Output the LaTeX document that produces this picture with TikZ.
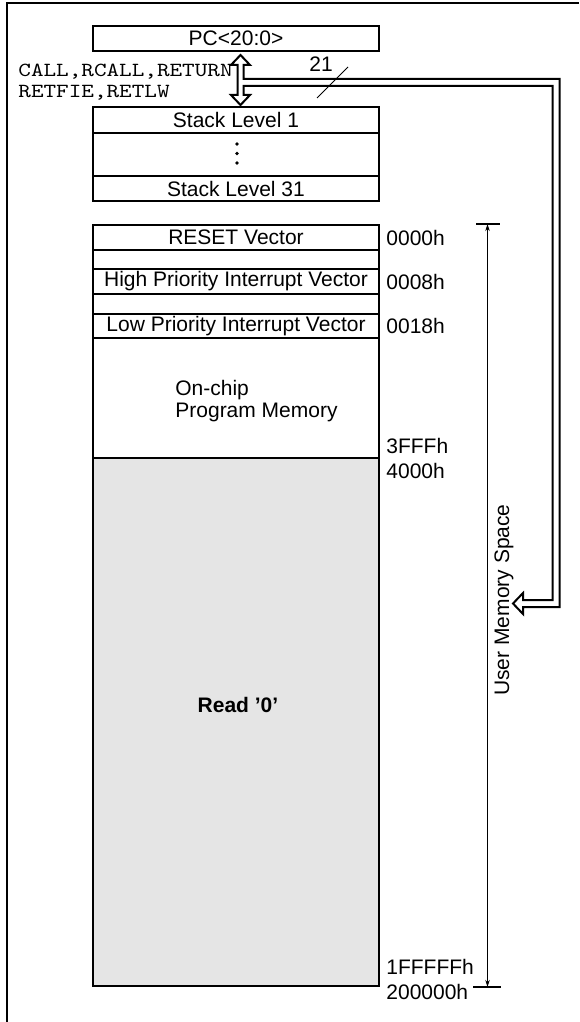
\documentclass[tikz,border=0pt]{standalone}
\usepackage{fontspec}
\setmainfont{Liberation Sans}
\usetikzlibrary{positioning,calc,arrows.meta}
\tikzset{
  cell/.style={draw, line width=1pt, minimum width=143pt, inner sep=0pt, outer sep=0pt},
  addr/.style={inner sep=0pt, anchor=west},
  bus/.style={draw, fill=white, line width=1pt},
  dimtip/.tip={Stealth[length=3.5pt,width=2.2pt]}
}
\begin{document}
\begin{tikzpicture}[x=0.5pt, y=-0.5pt, font=\fontsize{10.5}{11}\selectfont]
\useasboundingbox (0,0) rectangle (579,1022);
\draw[line width=1.2pt] (7,1022) -- (7,3) -- (579,3);

% PC and stack
\node[cell, minimum height=12.5pt] (pc) at (236,38.5) {PC<20:0>};
\node[cell, minimum height=13pt] (stk1) at (236,120) {Stack Level 1};
\node[cell, minimum height=21.5pt, below=0pt of stk1] (stkdots) {};
\foreach \d in {-9.5,0,9.5}
  \fill ($(stkdots.center)+(1,\d-1)$) circle (0.95pt);
\node[cell, minimum height=12.5pt, below=0pt of stkdots] (stk31) {Stack Level 31};

\node[inner sep=0pt, anchor=west, font=\ttfamily\fontsize{10}{10.5}\selectfont] (instr) at (18,83)
  {\scalebox{1.2}[1]{\begin{tabular}{@{}l@{}}CALL,RCALL,RETURN\\RETFIE,RETLW\end{tabular}}};

% memory map
\node[cell, minimum height=12.5pt] (reset) at (236,237.5) {RESET Vector};
\node[cell, minimum height=9.5pt, below=0pt of reset] (gapa) {};
\node[cell, minimum height=12.5pt, below=0pt of gapa] (hipri) {High Priority Interrupt Vector};
\node[cell, minimum height=10pt, below=0pt of hipri] (gapb) {};
\node[cell, minimum height=12pt, below=0pt of gapb] (lopri) {Low Priority Interrupt Vector};
\node[cell, minimum height=60pt, below=0pt of lopri] (onchip) {};
\node[cell, minimum height=264pt, below=0pt of onchip, fill=black!10] (rdzero) {};

\node[align=left, inner sep=0pt, anchor=west] (ocpm) at ($(onchip.west)+(82,3)$) {On-chip\\Program Memory};
\node[font=\bfseries\fontsize{10.5}{11}\selectfont] (rdtxt) at ($(rdzero.center)+(2,-17.5)$) {Read '0'};

\node[addr, right=3.5pt of reset] (a0000) {0000h};
\node[addr, right=3.5pt of hipri] (a0008) {0008h};
\node[addr, right=3.5pt of lopri] (a0018) {0018h};
\node[addr] (a3fff) at ($(onchip.south east)+(7,-12)$) {3FFFh};
\node[addr] (a4000) at ($(rdzero.north east)+(7,13)$) {4000h};
\node[addr] (a1fff) at ($(rdzero.south east)+(7,-19)$) {1FFFFFh};
\node[addr] (a2000) at ($(rdzero.south east)+(7,6)$) {200000h};

% user memory space
\coordinate (umtop) at (487.5,224);
\coordinate (umbot) at (487.5,987);
\draw[line width=0.6pt, dimtip-dimtip] (umtop) -- (umbot);
\draw[line width=0.7pt] ($(umtop)+(-11.5,0)$) -- ++(24,0);
\draw[line width=0.7pt] ($(umbot)+(-14.5,0)$) -- ++(28,0);
\node[rotate=90] (ums) at (504,600) {User Memory Space};

% return address bus
\coordinate (bt) at ($(pc.south)+(4.5,4)$);
\coordinate (bb) at ($(stk1.north)+(4.5,-2)$);
\coordinate (ret) at (513,603.5);
\path[bus] (bt) -- ++(9.5,10) -- ++(-6.5,0) -- ++(0,14) -- ++(316,0) -- ++(0,528)
  -- ($(ret)+(10,3.5)$) -- ++(0,7) -- (ret) -- ($(ret)+(10,-10.5)$) -- ++(0,7)
  -- ++(29.5,0) -- ++(0,-514) -- ++(-309,0) -- ++(0,9) -- ++(6.5,0) -- (bb)
  -- ++(-9.5,-10) -- ++(6.5,0) -- ++(0,-30) -- ++(-6.5,0) -- cycle;
\node (bw) at (321,64) {21};
\draw[line width=0.5pt] ($(bw)+(-4,34)$) -- ++(31,-31);
\end{tikzpicture}
\end{document}
